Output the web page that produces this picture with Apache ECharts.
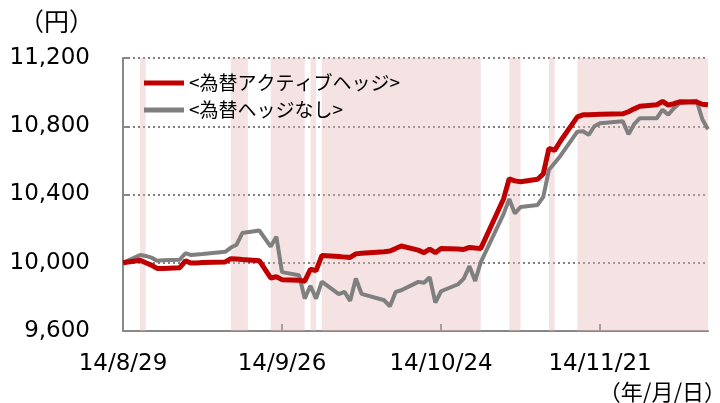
<!DOCTYPE html>
<html><head><meta charset="utf-8">
<script src="https://cdn.jsdelivr.net/npm/echarts@6/dist/echarts.min.js"></script>
<style>html,body{margin:0;padding:0;background:#fff}#c{width:720px;height:403px}</style>
</head><body><div id="c"></div>
<script>
const dates = ['2014-08-29','2014-09-01','2014-09-02','2014-09-03','2014-09-04','2014-09-05','2014-09-08','2014-09-09','2014-09-10','2014-09-11','2014-09-12','2014-09-16','2014-09-17','2014-09-18','2014-09-19','2014-09-22','2014-09-24','2014-09-25','2014-09-26','2014-09-29','2014-09-30','2014-10-01','2014-10-02','2014-10-03','2014-10-06','2014-10-07','2014-10-08','2014-10-09','2014-10-10','2014-10-14','2014-10-15','2014-10-16','2014-10-17','2014-10-20','2014-10-21','2014-10-22','2014-10-23','2014-10-24','2014-10-27','2014-10-28','2014-10-29','2014-10-30','2014-10-31','2014-11-04','2014-11-05','2014-11-06','2014-11-07','2014-11-10','2014-11-11','2014-11-12','2014-11-13','2014-11-14','2014-11-17','2014-11-18','2014-11-19','2014-11-20','2014-11-21','2014-11-25','2014-11-26','2014-11-27','2014-11-28','2014-12-01','2014-12-02','2014-12-03','2014-12-04','2014-12-05','2014-12-08','2014-12-09','2014-12-10'];
const hedged = [10000,10015,10000,9986,9967,9967,9971,10011,9998,9999,10001,10005,10024,10022,10019,10012,9911,9918,9901,9898,9892,9962,9954,10042,10036,10033,10031,10052,10056,10065,10069,10083,10098,10074,10059,10080,10059,10084,10080,10078,10090,10086,10084,10374,10492,10480,10475,10489,10521,10671,10659,10712,10855,10867,10867,10869,10870,10873,10885,10902,10917,10926,10946,10924,10932,10943,10942,10929,10926];
const unhedged = [10000,10045,10040,10030,10012,10014,10018,10056,10045,10048,10051,10064,10089,10106,10174,10189,10095,10153,9945,9927,9790,9865,9790,9889,9816,9829,9777,9908,9818,9780,9745,9829,9839,9888,9883,9915,9766,9833,9874,9907,9980,9893,10004,10285,10374,10289,10327,10339,10386,10545,10585,10626,10768,10771,10750,10800,10818,10829,10753,10812,10847,10847,10897,10867,10906,10935,10950,10841,10783];
const hedgePeriods = [['2014-09-01','2014-09-02'],['2014-09-17','2014-09-20'],['2014-09-24','2014-09-30'],['2014-10-01','2014-10-02'],['2014-10-03','2014-10-31'],['2014-11-05','2014-11-07'],['2014-11-12','2014-11-13'],['2014-11-17','2014-12-10']];
const xTickLabels = ['14/8/29','14/9/26','14/10/24','14/11/21'];
const yMin = 9600, yMax = 11200, yStep = 400;
const seriesNames = ['<為替アクティブヘッジ>','<為替ヘッジなし>'];

const DAY = 864e5;
const t0 = Date.parse(dates[0]);
const dayOf = s => Math.round((Date.parse(s) - t0) / DAY);
const labelDay = l => { const p = l.split('/'); return dayOf('20' + p[0] + '-' + p[1].padStart(2,'0') + '-' + p[2].padStart(2,'0')); };
const tickDays = xTickLabels.map(labelDay);
const lastDay = dayOf(dates[dates.length - 1]);
const toPairs = vals => dates.map((d, i) => [dayOf(d), vals[i]]);

const chart = echarts.init(document.getElementById('c'), null, {renderer: 'canvas'});
chart.setOption({
  animation: false,
  grid: {left: 123, right: 12, top: 58, bottom: 72},
  legend: {
    data: seriesNames, orient: 'vertical', left: 144, top: 73, padding: 0, icon: 'rect',
    itemWidth: 40, itemHeight: 5, itemGap: 7,
    textStyle: {fontSize: 19, lineHeight: 20, color: '#000', fontFamily: 'Noto Sans CJK JP'}
  },
  graphic: [
    {type: 'text', left: 19, top: 9, style: {text: '（円）', fontSize: 25, fill: '#000', fontFamily: 'Noto Sans CJK JP'}},
    {type: 'text', right: -6, top: 381, style: {text: '（年/月/日）', fontSize: 22, fill: '#000', fontFamily: 'Noto Sans CJK JP'}}
  ],
  xAxis: {
    type: 'value', min: 0, max: lastDay,
    axisLine: {show: true, lineStyle: {color: '#888', width: 2}},
    axisTick: {show: true, inside: true, length: 7, customValues: tickDays.slice(1), lineStyle: {color: '#888', width: 2}},
    axisLabel: {customValues: tickDays, formatter: v => xTickLabels[tickDays.indexOf(v)] || '', fontSize: 23, color: '#000', margin: 22, fontFamily: 'DejaVu Sans'},
    splitLine: {show: false}
  },
  yAxis: {
    type: 'value', min: yMin, max: yMax, interval: yStep,
    axisLine: {show: true, lineStyle: {color: '#888', width: 2}},
    axisTick: {show: true, inside: true, length: 6, lineStyle: {color: '#888', width: 2}},
    axisLabel: {formatter: v => v.toLocaleString('en-US'), fontSize: 23, color: '#000', margin: 33, fontFamily: 'DejaVu Sans'},
    splitLine: {show: true, lineStyle: {type: [2, 3], color: '#808080', width: 2}}
  },
  series: [
    {
      name: 'bands', type: 'line', data: [], z: 1, silent: true,
      markArea: {silent: true, itemStyle: {color: 'rgba(230,184,186,0.4)'},
        data: hedgePeriods.map(p => [{xAxis: dayOf(p[0])}, {xAxis: dayOf(p[1])}])}
    },
    {name: seriesNames[1], type: 'line', data: toPairs(unhedged), showSymbol: false, symbol: 'none', z: 3,
      itemStyle: {color: '#7F7F7F'}, lineStyle: {color: '#7F7F7F', width: 4}},
    {name: seriesNames[0], type: 'line', data: toPairs(hedged), showSymbol: false, symbol: 'none', z: 4,
      itemStyle: {color: '#C00000'}, lineStyle: {color: '#C00000', width: 5}}
  ]
});
</script></body></html>
